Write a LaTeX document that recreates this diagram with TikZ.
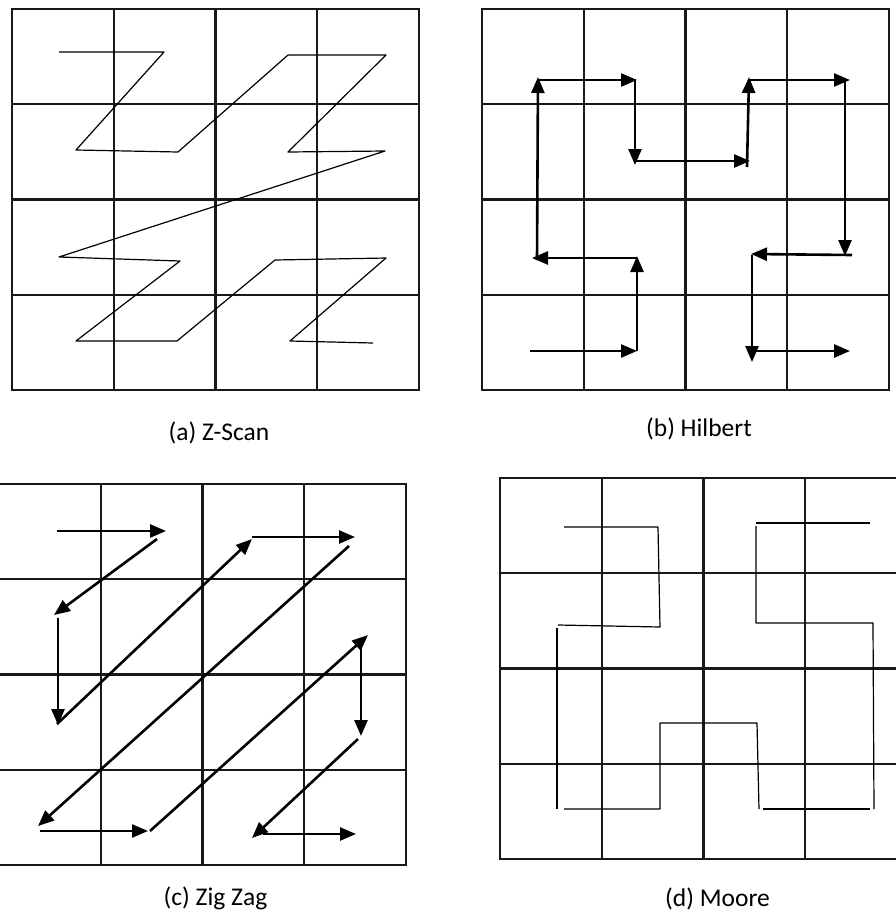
\documentclass[tikz,border=0pt]{standalone}
\usepackage{fontspec}
\setmainfont{Carlito}
\usetikzlibrary{arrows.meta}

\begin{document}
\begin{tikzpicture}[x=1pt, y=-1pt,
  gridline/.style = {line width=2.2pt, black!90},
  scanline/.style = {line width=1.2pt, line join=round},
  scanarrow/.style = {line width=2.6pt, -{Triangle[length=16pt, width=13pt]}},
  caption/.style = {inner sep=0pt, font=\fontsize{25.5}{30}\selectfont}]
  \useasboundingbox (0,0) rectangle (896,914);
  % the four 4x4 grids
  \foreach \gx/\gy in {12/9, 482/9, -1/484, 500/478} {
    \draw[gridline] (\gx,\gy) rectangle ++(407,381);
    \foreach \k in {1,2,3} {
      \draw[gridline] ({\gx+\k*101.75},\gy) -- ++(0,381);
      \draw[gridline] (\gx,{\gy+\k*95.25}) -- ++(407,0);
    }
  }
  % (a) Z-scan
  \draw[scanline] (59,52) -- (164,52) -- (76,150) -- (178,152) -- (288,55) -- (386,55)
    -- (288,152) -- (385,151) -- (59,257) -- (180,261) -- (76,341) -- (177,341)
    -- (275,260) -- (386,258) -- (290,341) -- (373,343);
  % (b) Hilbert
  \draw[scanarrow] (530,351) -- (637,351);
  \draw[scanarrow] (637,351) -- (637,256);
  \draw[scanarrow] (637,258) -- (532,258);
  \draw[scanarrow] (537,260) -- (538,77);
  \draw[scanarrow] (537,80) -- (637,80);
  \draw[scanarrow] (635,79) -- (635,165);
  \draw[scanarrow] (636,161) -- (750,161);
  \draw[scanarrow] (747,167) -- (749,77);
  \draw[scanarrow] (750,80) -- (850,80);
  \draw[scanarrow] (845,80) -- (845,256);
  \draw[scanarrow] (852,255) -- (751,254);
  \draw[scanarrow] (752,255) -- (752,362);
  \draw[scanarrow] (752,351) -- (850,351);
  % (c) Zig Zag
  \draw[scanarrow] (57,531) -- (166,531);
  \draw[scanarrow] (157,539) -- (54,615);
  \draw[scanarrow] (58,618) -- (58,725);
  \draw[scanarrow] (57,724) -- (252,539);
  \draw[scanarrow] (252,537) -- (355,537);
  \draw[scanarrow] (349,546) -- (38,826);
  \draw[scanarrow] (40,831) -- (148,831);
  \draw[scanarrow] (150,831) -- (368,635);
  \draw[scanarrow] (361,640) -- (361,736);
  \draw[scanarrow] (358,739) -- (252,838);
  \draw[scanarrow] (263,834) -- (356,834);
  % (d) Moore
  \draw[scanline] (564,527) -- (658,527) -- (660,627) -- (558,625);
  \draw[scanline] (557,628) -- (557,809);
  \draw[scanline] (564,809) -- (660,809) -- (660,723) -- (757,723) -- (759,809);
  \draw[scanline] (763,809) -- (870,809);
  \draw[scanline] (874,809) -- (873,623) -- (756,623) -- (756,526);
  \draw[scanline] (756,523) -- (870,523);
  % captions
  \node[caption] (cap-a) at (219,433) {(a) Z-Scan};
  \node[caption] (cap-b) at (699,429) {(b) Hilbert};
  \node[caption] (cap-c) at (215.5,898) {(c) Zig Zag};
  \node[caption] (cap-d) at (717.5,899) {(d) Moore};
\end{tikzpicture}
\end{document}
